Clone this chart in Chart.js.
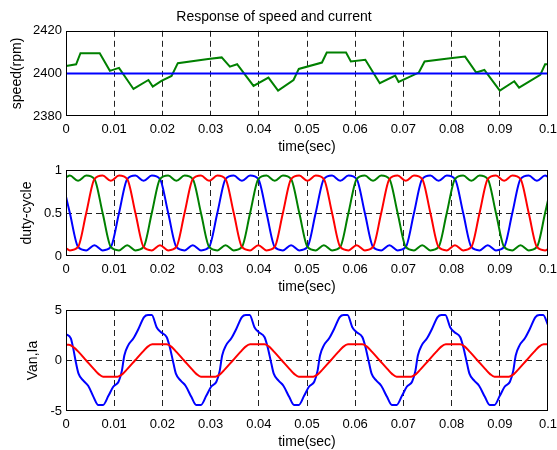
<!DOCTYPE html>
<html>
<head>
<meta charset="utf-8">
<script src="https://cdn.jsdelivr.net/npm/chart.js@4/dist/chart.umd.min.js"></script>
<style>
  body { margin: 0; background: #fff; overflow: hidden; width: 557px; height: 450px; position: relative; }
  canvas { position: absolute; left: 0; }
</style>
</head>
<body>
<canvas id="c1" width="570" height="156" style="top:0px"></canvas>
<canvas id="c2" width="570" height="146" style="top:150px"></canvas>
<canvas id="c3" width="570" height="161" style="top:290px"></canvas>
<script>
// values, [time, value]
const speedPts = [
  [0, 2403.5], [0.0021, 2404.3], [0.0030, 2409.5], [0.0070, 2409.5], [0.0091, 2401.2],
  [0.0110, 2402.6], [0.0140, 2392.7], [0.0171, 2396.9], [0.0180, 2393.8], [0.0198, 2396.5],
  [0.0219, 2398.8], [0.0232, 2404.8], [0.0295, 2406.8], [0.0323, 2407.5], [0.0340, 2403.2],
  [0.0355, 2404.3], [0.0389, 2394.1], [0.0420, 2398.0], [0.0440, 2391.9], [0.0472, 2396.9],
  [0.0483, 2402.1], [0.0531, 2405.1], [0.0541, 2409.8], [0.0581, 2409.8], [0.0591, 2405.6],
  [0.0621, 2406.4], [0.0651, 2395.4], [0.0683, 2399.0], [0.0690, 2396.0], [0.0732, 2400.4],
  [0.0744, 2405.6], [0.0797, 2407.1], [0.0828, 2407.9], [0.0851, 2400.4], [0.0868, 2401.6],
  [0.0900, 2391.9], [0.0930, 2396.3], [0.0940, 2393.3], [0.0984, 2399.3], [0.0994, 2404.3],
  [0.1000, 2404.3]
];
const speedRef = [[0, 2400], [0.1, 2400]];

const dutyBlue = [
  [0, 0.69], [0.0008, 0.5], [0.0025, 0.105], [0.0042, 0.065], [0.0059, 0.125], [0.0076, 0.065], [0.0093, 0.105],
  [0.0110, 0.5], [0.0127, 0.895], [0.0144, 0.935], [0.0161, 0.875], [0.0178, 0.935], [0.0195, 0.895],
  [0.0212, 0.5], [0.0229, 0.105], [0.0246, 0.065], [0.0263, 0.125], [0.0280, 0.065], [0.0297, 0.105],
  [0.0314, 0.5], [0.0331, 0.895], [0.0348, 0.935], [0.0365, 0.875], [0.0382, 0.935], [0.0399, 0.895],
  [0.0416, 0.5], [0.0433, 0.105], [0.0450, 0.065], [0.0467, 0.125], [0.0484, 0.065], [0.0501, 0.105],
  [0.0518, 0.5], [0.0535, 0.895], [0.0552, 0.935], [0.0569, 0.875], [0.0586, 0.935], [0.0603, 0.895],
  [0.0620, 0.5], [0.0637, 0.105], [0.0654, 0.065], [0.0671, 0.125], [0.0688, 0.065], [0.0705, 0.105],
  [0.0722, 0.5], [0.0739, 0.895], [0.0756, 0.935], [0.0773, 0.875], [0.0790, 0.935], [0.0807, 0.895],
  [0.0824, 0.5], [0.0841, 0.105], [0.0858, 0.065], [0.0875, 0.125], [0.0892, 0.065], [0.0909, 0.105],
  [0.0926, 0.5], [0.0943, 0.895], [0.0960, 0.935], [0.0977, 0.875], [0.0994, 0.935], [0.1000, 0.92]
];
const dutyRed = [
  [0, 0.09], [0.0008, 0.065], [0.0025, 0.105],
  [0.0042, 0.5], [0.0059, 0.895], [0.0076, 0.935], [0.0093, 0.875], [0.0110, 0.935], [0.0127, 0.895],
  [0.0144, 0.5], [0.0161, 0.105], [0.0178, 0.065], [0.0195, 0.125], [0.0212, 0.065], [0.0229, 0.105],
  [0.0246, 0.5], [0.0263, 0.895], [0.0280, 0.935], [0.0297, 0.875], [0.0314, 0.935], [0.0331, 0.895],
  [0.0348, 0.5], [0.0365, 0.105], [0.0382, 0.065], [0.0399, 0.125], [0.0416, 0.065], [0.0433, 0.105],
  [0.0450, 0.5], [0.0467, 0.895], [0.0484, 0.935], [0.0501, 0.875], [0.0518, 0.935], [0.0535, 0.895],
  [0.0552, 0.5], [0.0569, 0.105], [0.0586, 0.065], [0.0603, 0.125], [0.0620, 0.065], [0.0637, 0.105],
  [0.0654, 0.5], [0.0671, 0.895], [0.0688, 0.935], [0.0705, 0.875], [0.0722, 0.935], [0.0739, 0.895],
  [0.0756, 0.5], [0.0773, 0.105], [0.0790, 0.065], [0.0807, 0.125], [0.0824, 0.065], [0.0841, 0.105],
  [0.0858, 0.5], [0.0875, 0.895], [0.0892, 0.935], [0.0909, 0.875], [0.0926, 0.935], [0.0943, 0.895],
  [0.0960, 0.5], [0.0977, 0.105], [0.0994, 0.065], [0.1000, 0.08]
];
const dutyGreen = [
  [0, 0.915], [0.0008, 0.935], [0.0025, 0.875], [0.0042, 0.935], [0.0059, 0.895],
  [0.0076, 0.5], [0.0093, 0.105], [0.0110, 0.065], [0.0127, 0.125], [0.0144, 0.065], [0.0161, 0.105],
  [0.0178, 0.5], [0.0195, 0.895], [0.0212, 0.935], [0.0229, 0.875], [0.0246, 0.935], [0.0263, 0.895],
  [0.0280, 0.5], [0.0297, 0.105], [0.0314, 0.065], [0.0331, 0.125], [0.0348, 0.065], [0.0365, 0.105],
  [0.0382, 0.5], [0.0399, 0.895], [0.0416, 0.935], [0.0433, 0.875], [0.0450, 0.935], [0.0467, 0.895],
  [0.0484, 0.5], [0.0501, 0.105], [0.0518, 0.065], [0.0535, 0.125], [0.0552, 0.065], [0.0569, 0.105],
  [0.0586, 0.5], [0.0603, 0.895], [0.0620, 0.935], [0.0637, 0.875], [0.0654, 0.935], [0.0671, 0.895],
  [0.0688, 0.5], [0.0705, 0.105], [0.0722, 0.065], [0.0739, 0.125], [0.0756, 0.065], [0.0773, 0.105],
  [0.0790, 0.5], [0.0807, 0.895], [0.0824, 0.935], [0.0841, 0.875], [0.0858, 0.935], [0.0875, 0.895],
  [0.0892, 0.5], [0.0909, 0.105], [0.0926, 0.065], [0.0943, 0.125], [0.0960, 0.065], [0.0977, 0.105],
  [0.0994, 0.5], [0.1000, 0.65]
];

const vanPts = [
  [0, 2.6], [0.0010, 2.2], [0.0015, 1.2], [0.0021, -0.3], [0.0026, -1.3], [0.0036, -2.0],
  [0.0046, -2.5], [0.0057, -3.6], [0.0067, -4.4], [0.0077, -4.4],
  [0.0088, -3.5], [0.0098, -2.6], [0.0109, -2.1], [0.0116, -1.0], [0.0121, 0.5], [0.0129, 1.5],
  [0.0140, 2.2], [0.0150, 3.1], [0.0162, 4.3], [0.0170, 4.5], [0.0178, 4.5], [0.0188, 3.3],
  [0.0197, 2.8], [0.0209, 2.3], [0.0216, 1.2], [0.0223, -0.3], [0.0228, -1.3], [0.0238, -2.0],
  [0.0248, -2.5], [0.0260, -3.6], [0.0270, -4.4], [0.0280, -4.4],
  [0.0291, -3.5], [0.0301, -2.6], [0.0312, -2.1], [0.0319, -1.0], [0.0324, 0.5], [0.0332, 1.5],
  [0.0343, 2.2], [0.0353, 3.1], [0.0365, 4.3], [0.0373, 4.5], [0.0381, 4.5], [0.0391, 3.3],
  [0.0400, 2.8], [0.0412, 2.3], [0.0419, 1.2], [0.0426, -0.3], [0.0431, -1.3], [0.0441, -2.0],
  [0.0451, -2.5], [0.0463, -3.6], [0.0473, -4.4], [0.0483, -4.4],
  [0.0494, -3.5], [0.0504, -2.6], [0.0515, -2.1], [0.0522, -1.0], [0.0527, 0.5], [0.0535, 1.5],
  [0.0546, 2.2], [0.0556, 3.1], [0.0568, 4.3], [0.0576, 4.5], [0.0584, 4.5], [0.0594, 3.3],
  [0.0603, 2.8], [0.0615, 2.3], [0.0622, 1.2], [0.0629, -0.3], [0.0634, -1.3], [0.0644, -2.0],
  [0.0654, -2.5], [0.0666, -3.6], [0.0676, -4.4], [0.0686, -4.4],
  [0.0697, -3.5], [0.0707, -2.6], [0.0718, -2.1], [0.0725, -1.0], [0.0730, 0.5], [0.0738, 1.5],
  [0.0749, 2.2], [0.0759, 3.1], [0.0771, 4.3], [0.0779, 4.5], [0.0787, 4.5], [0.0797, 3.3],
  [0.0806, 2.8], [0.0818, 2.3], [0.0825, 1.2], [0.0832, -0.3], [0.0837, -1.3], [0.0847, -2.0],
  [0.0857, -2.5], [0.0869, -3.6], [0.0879, -4.4], [0.0889, -4.4],
  [0.0900, -3.5], [0.0910, -2.6], [0.0921, -2.1], [0.0928, -1.0], [0.0933, 0.5], [0.0941, 1.5],
  [0.0952, 2.2], [0.0962, 3.1], [0.0974, 4.3], [0.0982, 4.5], [0.0990, 4.5], [0.1000, 3.5]
];
const iaPts = [
  [0, 1.55], [0.0006, 1.55], [0.0016, 1.3], [0.0026, 0.85], [0.0042, 0], [0.0058, -0.85],
  [0.0068, -1.35], [0.0077, -1.6], [0.0107, -1.6], [0.0117, -1.35], [0.0127, -0.85], [0.0143, 0],
  [0.0159, 0.85], [0.0169, 1.35], [0.0179, 1.6], [0.0209, 1.6], [0.0219, 1.35], [0.0229, 0.85],
  [0.0245, 0], [0.0261, -0.85], [0.0271, -1.35], [0.0280, -1.6], [0.0310, -1.6], [0.0320, -1.35],
  [0.0330, -0.85], [0.0346, 0], [0.0362, 0.85], [0.0372, 1.35], [0.0382, 1.6], [0.0412, 1.6],
  [0.0422, 1.35], [0.0432, 0.85], [0.0448, 0], [0.0464, -0.85], [0.0474, -1.35], [0.0483, -1.6],
  [0.0513, -1.6], [0.0523, -1.35], [0.0533, -0.85], [0.0549, 0], [0.0565, 0.85], [0.0575, 1.35],
  [0.0585, 1.6], [0.0615, 1.6], [0.0625, 1.35], [0.0635, 0.85], [0.0651, 0], [0.0667, -0.85],
  [0.0677, -1.35], [0.0686, -1.6], [0.0716, -1.6], [0.0726, -1.35], [0.0736, -0.85], [0.0752, 0],
  [0.0768, 0.85], [0.0778, 1.35], [0.0788, 1.6], [0.0818, 1.6], [0.0828, 1.35], [0.0838, 0.85],
  [0.0854, 0], [0.0870, -0.85], [0.0880, -1.35], [0.0889, -1.6], [0.0919, -1.6], [0.0929, -1.35],
  [0.0939, -0.85], [0.0955, 0], [0.0971, 0.85], [0.0981, 1.35], [0.0991, 1.6], [0.1000, 1.6]
];

const FONT = '"Liberation Sans", Arial, sans-serif';

function pts(arr) {
  return arr.map(p => ({x: p[0], y: p[1]}));
}

// MATLAB style closed box around the plot area
const boxPlugin = {
  id: 'box',
  afterDatasetsDraw(chart) {
    const a = chart.chartArea;
    const ctx = chart.ctx;
    ctx.save();
    ctx.strokeStyle = '#000';
    ctx.lineWidth = 1;
    ctx.strokeRect(Math.round(a.left) + 0.5, Math.round(a.top) + 0.5,
      Math.round(a.right - a.left) - 1, Math.round(a.bottom - a.top) - 1);
    ctx.restore();
  }
};

function line(data, color, order, smooth) {
  return {
    data: pts(data),
    borderColor: color,
    borderWidth: 2,
    pointRadius: 0,
    fill: false,
    order: order,
    cubicInterpolationMode: smooth ? 'monotone' : 'default',
    tension: 0
  };
}

const fmt = v => String(+v.toFixed(2));

function make_plot(id, datasets, yMin, yMax, yStep, yLabel, yLabelPad, padTop, title) {
  const gridColor = (min, max) => ctx => {
    const v = ctx.tick ? ctx.tick.value : null;
    if (v === null || Math.abs(v - min) < 1e-9 || Math.abs(v - max) < 1e-9) return 'rgba(0,0,0,0)';
    return '#222';
  };
  return new Chart(document.getElementById(id), {
    type: 'line',
    data: {datasets: datasets},
    plugins: [boxPlugin],
    options: {
      responsive: false,
      animation: false,
      layout: {padding: {left: 0, right: 22, top: padTop, bottom: 0}},
      plugins: {
        legend: {display: false},
        tooltip: {enabled: false},
        title: {
          display: !!title,
          text: title || '',
          color: '#000',
          font: {family: FONT, size: 14, weight: 'normal'},
          padding: {top: 9, bottom: 5}
        }
      },
      scales: {
        x: {
          type: 'linear',
          min: 0,
          max: 0.1,
          afterFit: s => { s.height = 40; },
          ticks: {
            stepSize: 0.01,
            padding: 6,
            color: '#000',
            font: {family: FONT, size: 13},
            maxRotation: 0,
            autoSkip: false,
            callback: fmt
          },
          grid: {color: gridColor(0, 0.1), lineWidth: 1, drawTicks: false},
          border: {display: false, dash: [6, 4]},
          title: {
            display: true,
            text: 'time(sec)',
            color: '#000',
            font: {family: FONT, size: 14},
            padding: {top: 0, bottom: 0}
          }
        },
        y: {
          min: yMin,
          max: yMax,
          afterFit: s => { s.width = 66; },
          ticks: {
            stepSize: yStep,
            padding: 4,
            color: '#000',
            font: {family: FONT, size: 13},
            callback: fmt
          },
          grid: {color: gridColor(yMin, yMax), lineWidth: 1, drawTicks: false},
          border: {display: false, dash: [6, 4]},
          title: {
            display: true,
            text: yLabel,
            color: '#000',
            font: {family: FONT, size: 14},
            padding: {top: yLabelPad, bottom: 0}
          }
        }
      }
    }
  });
}

make_plot('c1', [
  line(speedRef, '#0000ff', 0, false),
  line(speedPts, '#008000', 1, false)
], 2380, 2420, 20, 'speed(rpm)', 9, 0, 'Response of speed and current');

make_plot('c2', [
  line(dutyRed, '#ff0000', 0, true),
  line(dutyGreen, '#008000', 1, true),
  line(dutyBlue, '#0000ff', 2, true)
], 0, 1, 0.5, 'duty-cycle', 19, 20, null);

make_plot('c3', [
  line(iaPts, '#ff0000', 0, true),
  line(vanPts, '#0000ff', 1, true)
], -5, 5, 5, 'Van,Ia', 25, 20, null);
</script>
</body>
</html>
